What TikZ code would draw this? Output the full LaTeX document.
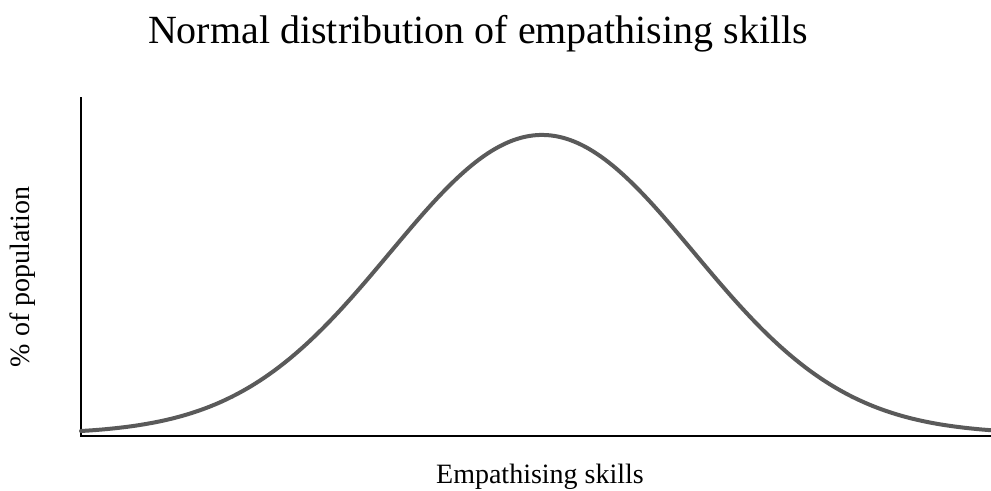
\documentclass[tikz,border=0pt]{standalone}
\usepackage{fontspec}
\setmainfont{Liberation Serif}
\definecolor{curvegray}{RGB}{90,90,90}
\tikzset{
  axisline/.style={line width=1.5pt, black},
  bellcurve/.style={line width=3pt, curvegray, line cap=round},
  titletext/.style={font=\fontsize{30pt}{36pt}\selectfont, inner sep=0pt, anchor=base},
  axislabel/.style={font=\fontsize{21pt}{25pt}\selectfont, inner sep=0pt, anchor=base}
}
\begin{document}
\begin{tikzpicture}[x=0.75pt, y=-0.75pt]
      \useasboundingbox (0,0) rectangle (991,490);

      % Title
      \node[titletext] (title) at (478,43) {Normal distribution of empathising skills};

      % Draw the axes
      \coordinate (ytop) at (81,97);
      \coordinate (origin) at (81,436);
      \coordinate (xend) at (991,436);
      \draw[axisline] (ytop) -- (origin) -- (xend);

      % Axis labels
      \node[axislabel] (xlabel) at (540,483) {Empathising skills};
      \node[axislabel, rotate=90] (ylabel) at (29,277) {\% of population};

      % Draw the normal curve
      \draw[bellcurve] plot[domain=81:991, samples=200, smooth]
          ({\x}, {434-299*exp(-0.5*((\x-542)/152)^2)});
    \end{tikzpicture}
\end{document}
